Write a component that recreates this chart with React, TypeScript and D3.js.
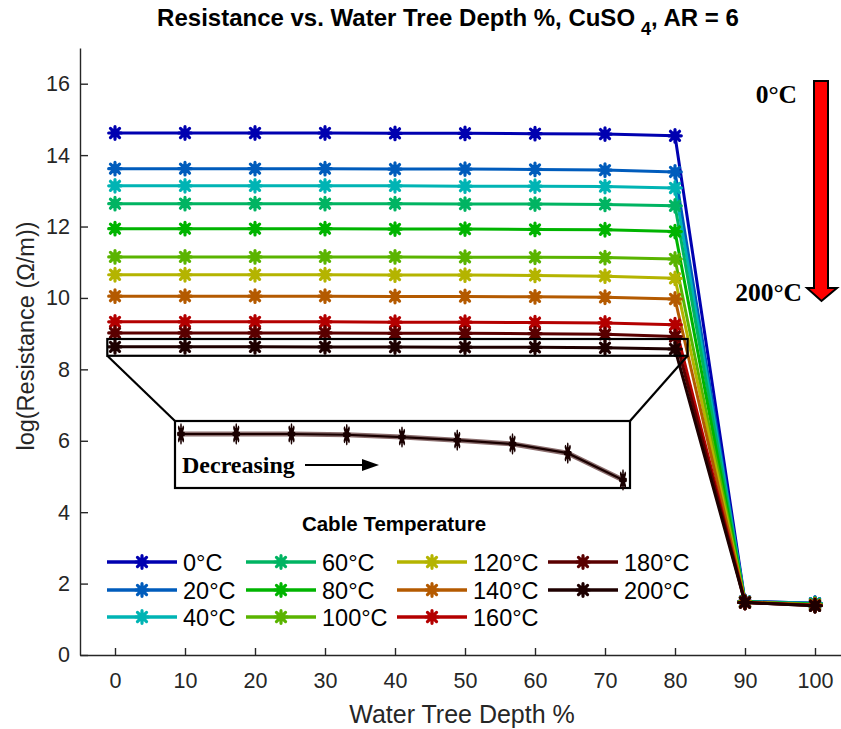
import * as d3 from 'd3';
import {useEffect, useRef} from 'react';

// water tree depth (%) on the x axis
const depths = [0, 10, 20, 30, 40, 50, 60, 70, 80, 90, 100];
const xTicks = [0, 10, 20, 30, 40, 50, 60, 70, 80, 90, 100];
const yTicks = [0, 2, 4, 6, 8, 10, 12, 14, 16];

const temps = ['0°C', '20°C', '40°C', '60°C', '80°C', '100°C', '120°C', '140°C', '160°C', '180°C', '200°C'];
const colors = ['#0000b0', '#005cbc', '#00b4b4', '#00b462', '#00b400', '#5ab400', '#b4b400', '#b45a00', '#b40000', '#5a0000', '#1e0000'];

// log(Resistance) per temperature
const res0 = [14.62, 14.62, 14.62, 14.62, 14.61, 14.61, 14.60, 14.59, 14.54, 1.50, 1.45];
const res20 = [13.62, 13.62, 13.62, 13.62, 13.61, 13.61, 13.60, 13.58, 13.53, 1.50, 1.45];
const res40 = [13.14, 13.14, 13.14, 13.14, 13.14, 13.13, 13.13, 13.12, 13.08, 1.49, 1.44];
const res60 = [12.64, 12.64, 12.64, 12.64, 12.64, 12.63, 12.63, 12.62, 12.58, 1.49, 1.43];
const res80 = [11.94, 11.94, 11.94, 11.94, 11.93, 11.93, 11.92, 11.91, 11.86, 1.49, 1.42];
const res100 = [11.15, 11.15, 11.15, 11.15, 11.15, 11.14, 11.14, 11.13, 11.09, 1.48, 1.41];
const res120 = [10.65, 10.65, 10.65, 10.65, 10.64, 10.64, 10.63, 10.61, 10.55, 1.48, 1.40];
const res140 = [10.05, 10.05, 10.05, 10.05, 10.04, 10.04, 10.03, 10.02, 9.97, 1.48, 1.40];
const res160 = [9.33, 9.33, 9.33, 9.33, 9.32, 9.32, 9.31, 9.30, 9.25, 1.47, 1.39];
const res180 = [9.02, 9.02, 9.02, 9.02, 9.01, 9.01, 9.00, 8.98, 8.92, 1.47, 1.38];
const res200 = [8.63, 8.63, 8.63, 8.629, 8.626, 8.622, 8.617, 8.605, 8.57, 1.47, 1.38];

const series = [res0, res20, res40, res60, res80, res100, res120, res140, res160, res180, res200];

const sans = '"Liberation Sans", Arial, sans-serif';
const serif = '"Liberation Serif", "Times New Roman", serif';
const axisColor = '#262626';

function asterisk(g: any, x: number, y: number, color: string, sx = 1, sy = 1) {
  const m = g.append('g').attr('transform', `translate(${x},${y}) scale(${sx},${sy})`);
  const r = 6.3;
  const d = r * 0.72;
  m.append('path')
    .attr('d', `M${-r},0L${r},0M0,${-r}L0,${r}M${-d},${-d}L${d},${d}M${-d},${d}L${d},${-d}`)
    .attr('stroke', color).attr('stroke-width', 3.2).attr('stroke-linecap', 'round');
  m.append('circle').attr('r', 4.6).attr('fill', color);
}

export default function App() {
  const svgRef = useRef<SVGSVGElement>(null);
  const width = 841;
  const height = 729;

  useEffect(() => {
    const svg = d3.select(svgRef.current);
    svg.selectAll('*').remove();

    const x = d3.scaleLinear().domain([-5, 105]).range([80, 850]);
    const y = d3.scaleLinear().domain([0, 17]).range([655, 48]);

    // axes
    const gx = svg.append('g').attr('transform', `translate(0,${y(0)})`)
      .call(d3.axisBottom(x).tickValues(xTicks).tickSizeInner(-7).tickSizeOuter(0).tickPadding(18));
    const gy = svg.append('g').attr('transform', `translate(${x(-5)},0)`)
      .call(d3.axisLeft(y).tickValues(yTicks).tickSizeInner(-8).tickSizeOuter(0).tickPadding(10));
    [gx, gy].forEach(g => {
      g.select('.domain').attr('stroke', axisColor).attr('stroke-width', 1.4);
      g.selectAll('.tick line').attr('stroke', axisColor).attr('stroke-width', 1.4);
      g.selectAll('.tick text').attr('fill', axisColor).style('font-family', sans).style('font-size', '21.5px');
    });

    // data lines
    const line = d3.line<number>().x((d, i) => x(depths[i])).y(d => y(d));
    series.forEach((s, k) => {
      const g = svg.append('g');
      g.append('path').datum(s).attr('d', line).attr('fill', 'none')
        .attr('stroke', colors[k]).attr('stroke-width', 3).attr('stroke-linejoin', 'round');
      s.forEach((v, i) => asterisk(g, x(depths[i]), y(v), colors[k]));
    });

    // zoom rectangle around the 200°C line
    const zx0 = x(-1.1), zx1 = x(81.8), zy0 = y(8.85), zy1 = y(8.38);
    svg.append('rect').attr('x', zx0).attr('y', zy0).attr('width', zx1 - zx0).attr('height', zy1 - zy0)
      .attr('fill', 'none').attr('stroke', '#000').attr('stroke-width', 2.2);

    // inset box
    const ib = {x0: 175, x1: 630, y0: 421, y1: 488};
    svg.append('line').attr('x1', zx0).attr('y1', zy1).attr('x2', ib.x0).attr('y2', ib.y0).attr('stroke', '#000').attr('stroke-width', 2.2);
    svg.append('line').attr('x1', zx1).attr('y1', zy1).attr('x2', ib.x1).attr('y2', ib.y0).attr('stroke', '#000').attr('stroke-width', 2.2);
    svg.append('rect').attr('x', ib.x0).attr('y', ib.y0).attr('width', ib.x1 - ib.x0).attr('height', ib.y1 - ib.y0)
      .attr('fill', '#fff').attr('stroke', '#000').attr('stroke-width', 2.2);

    const ix = d3.scaleLinear().domain([0, 80]).range([181, 623]);
    const iy = d3.scaleLinear().domain([8.57, 8.63]).range([480, 434]);
    const inset = res200.slice(0, 9);
    const iline = d3.line<number>().x((d, i) => ix(depths[i])).y(d => iy(d));
    svg.append('path').datum(inset).attr('d', iline).attr('fill', 'none')
      .attr('stroke', '#5a3030').attr('stroke-width', 5).attr('opacity', 0.7);
    svg.append('path').datum(inset).attr('d', iline).attr('fill', 'none')
      .attr('stroke', '#1a0000').attr('stroke-width', 2.2);
    inset.forEach((v, i) => asterisk(svg, ix(depths[i]), iy(v), '#1a0000', 0.5, 1.35));

    svg.append('text').attr('x', 182).attr('y', 473).text('Decreasing')
      .style('font-family', serif).style('font-weight', 'bold').style('font-size', '24px');
    svg.append('line').attr('x1', 305).attr('y1', 465).attr('x2', 364).attr('y2', 465)
      .attr('stroke', '#000').attr('stroke-width', 2);
    svg.append('path').attr('d', 'M362,459L379,465L362,471Z').attr('fill', '#000');

    // temperature arrow
    svg.append('path')
      .attr('d', 'M814,81L828,81L828,288L837,288L821.5,301L807,288L814,288Z')
      .attr('fill', '#ff0000').attr('stroke', '#000').attr('stroke-width', 2).attr('stroke-linejoin', 'miter');
    svg.append('text').attr('x', 797).attr('y', 103).attr('text-anchor', 'end').text('0°C')
      .style('font-family', serif).style('font-weight', 'bold').style('font-size', '25.5px');
    svg.append('text').attr('x', 802).attr('y', 301).attr('text-anchor', 'end').text('200°C')
      .style('font-family', serif).style('font-weight', 'bold').style('font-size', '25.5px');

    // legend
    svg.append('text').attr('x', 394).attr('y', 531).attr('text-anchor', 'middle').text('Cable Temperature')
      .style('font-family', sans).style('font-weight', 'bold').style('font-size', '20.5px');
    const colX = [107, 246, 397, 548];
    const rowY = [562, 590, 617];
    temps.forEach((t, k) => {
      const cx = colX[Math.floor(k / 3)];
      const cy = rowY[k % 3];
      const g = svg.append('g');
      g.append('line').attr('x1', cx).attr('y1', cy).attr('x2', cx + 70).attr('y2', cy)
        .attr('stroke', colors[k]).attr('stroke-width', 3.3);
      asterisk(g, cx + 35, cy, colors[k]);
      g.append('text').attr('x', cx + 76).attr('y', cy + 8.5).text(t).attr('fill', '#000')
        .style('font-family', sans).style('font-size', '23.5px');
    });

    // labels
    svg.append('text').attr('x', 462).attr('y', 723).attr('text-anchor', 'middle').text('Water Tree Depth %')
      .attr('fill', axisColor).style('font-family', sans).style('font-size', '25px');
    svg.append('text').attr('transform', 'translate(34,336) rotate(-90)').attr('text-anchor', 'middle')
      .text('log(Resistance (Ω/m))').attr('fill', axisColor).style('font-family', sans).style('font-size', '23.5px');

    const title = svg.append('text').attr('x', 448).attr('y', 26).attr('text-anchor', 'middle')
      .style('font-family', sans).style('font-weight', 'bold').style('font-size', '24px');
    title.append('tspan').text('Resistance vs. Water Tree Depth %, CuSO');
    title.append('tspan').attr('dx', 6).attr('dy', 9).style('font-size', '18px').text('4');
    title.append('tspan').attr('dy', -9).text(', AR = 6');

    return () => {};
  }, []);

  return (
    <svg ref={svgRef} width={width} height={height}
      style={{position: 'absolute', left: 0, top: 0, background: '#fff'}} />
  );
}
